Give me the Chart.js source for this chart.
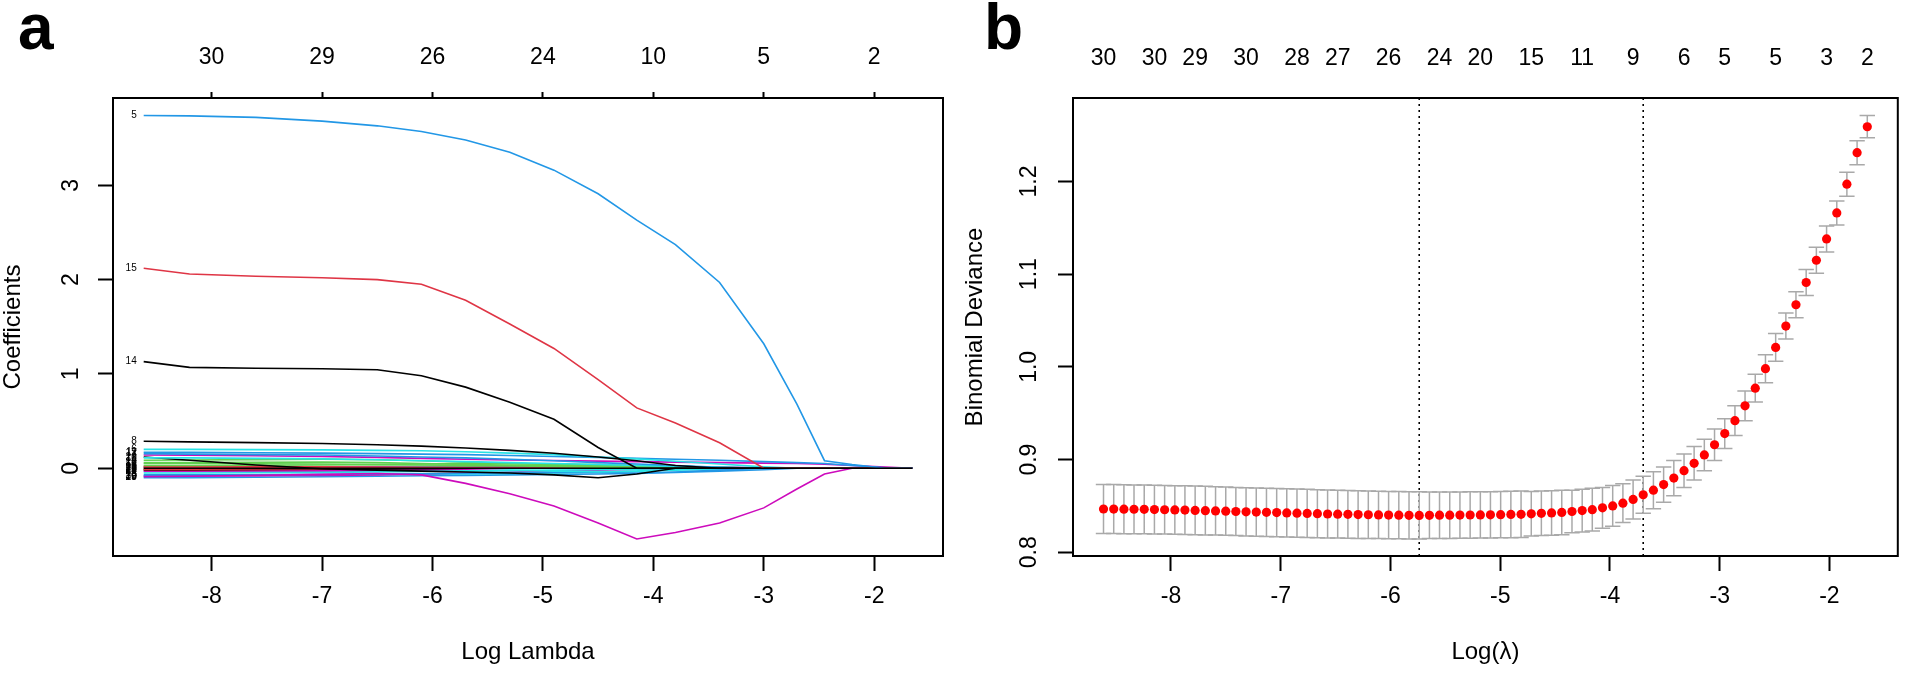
<!DOCTYPE html>
<html>
<head>
<meta charset="utf-8">
<title>LASSO coefficient paths and cross-validation</title>
<script src="https://cdn.jsdelivr.net/npm/chart.js@4.4.1/dist/chart.umd.min.js"></script>
<style>
  html, body { margin: 0; padding: 0; background: #fff; }
  body { width: 1907px; height: 673px; position: relative; overflow: hidden; font-family: 'Liberation Sans', Arial, sans-serif; }
  .panel { position: absolute; top: 0; height: 673px; }
  .tag { position: absolute; top: -5px; font-weight: bold; font-size: 64px; line-height: 64px; color: #000; }
</style>
</head>
<body>
<div class="panel" style="left:0;width:953px"><canvas id="coefChart"></canvas></div>
<div class="panel" style="left:953px;width:954px"><canvas id="cvChart"></canvas></div>
<div class="tag" style="left:18px">a</div>
<div class="tag" style="left:984px">b</div>
<script>
// ---- shared axis values ----
const xTicks = [-8, -7, -6, -5, -4, -3, -2];
const coefTicks = [0, 1, 2, 3];
const devianceTicks = [0.8, 0.9, 1.0, 1.1, 1.2];
const coefTopLabels = ['30', '29', '26', '24', '10', '5', '2'];

// ---- panel a: coefficient paths (value at each knot of log lambda) ----
const pathKnots = [-8.615, -8.2, -7.6, -7.0, -6.5, -6.1, -5.7, -5.3, -4.9, -4.5, -4.15, -3.8, -3.4, -3.0, -2.7, -2.45, -2.2, -1.9, -1.655];
const coefPaths = [
  ['2',  [0, 0, 0, 0, 0, 0, 0, 0, 0, 0, 0, 0, 0, 0, 0, 0, 0, 0, 0]],
  ['5',  [3.74, 3.735, 3.72, 3.68, 3.63, 3.57, 3.48, 3.35, 3.16, 2.91, 2.63, 2.37, 1.97, 1.32, 0.68, 0.08, 0.04, 0, 0]],
  ['15', [2.12, 2.06, 2.035, 2.02, 2.0, 1.95, 1.78, 1.53, 1.27, 0.94, 0.64, 0.48, 0.27, 0, 0, 0, 0, 0, 0]],
  ['14', [1.13, 1.07, 1.06, 1.055, 1.045, 0.98, 0.86, 0.70, 0.52, 0.22, 0, 0, 0, 0, 0, 0, 0, 0, 0]],
  ['8',  [0.286, 0.28, 0.272, 0.262, 0.25, 0.235, 0.215, 0.19, 0.16, 0.12, 0.08, 0.03, 0, 0, 0, 0, 0, 0, 0]],
  ['13', [-0.09, -0.085, -0.075, -0.065, -0.055, -0.07, -0.16, -0.27, -0.40, -0.58, -0.75, -0.68, -0.58, -0.42, -0.22, -0.06, 0, 0, 0]],
  ['6',  [0.20, 0.20, 0.198, 0.195, 0.19, 0.185, 0.175, 0.16, 0.145, 0.12, 0.10, 0.075, 0.045, 0.015, 0, 0, 0, 0, 0]],
  ['11', [0.17, 0.168, 0.165, 0.16, 0.155, 0.15, 0.145, 0.135, 0.125, 0.115, 0.105, 0.095, 0.085, 0.07, 0.06, 0.05, 0.03, 0.005, 0]],
  ['17', [0.155, 0.15, 0.145, 0.14, 0.13, 0.12, 0.11, 0.095, 0.08, 0.06, 0.045, 0.03, 0.01, 0, 0, 0, 0, 0, 0]],
  ['7',  [0.14, 0.138, 0.133, 0.125, 0.115, 0.105, 0.095, 0.088, 0.082, 0.076, 0.07, 0.065, 0.06, 0.055, 0.05, 0.042, 0.03, 0.012, 0]],
  ['18', [0.11, 0.11, 0.105, 0.10, 0.09, 0.08, 0.07, 0.06, 0.05, 0.04, 0.03, 0.02, 0.01, 0, 0, 0, 0, 0, 0]],
  ['20', [0.12, 0.085, 0.035, -0.005, -0.02, -0.03, -0.04, -0.05, -0.07, -0.10, -0.06, 0, 0, 0, 0, 0, 0, 0, 0]],
  ['4',  [0.085, 0.088, 0.092, 0.095, 0.09, 0.08, 0.065, 0.05, 0.04, 0.03, 0.02, 0.01, 0, 0, 0, 0, 0, 0, 0]],
  ['22', [0.06, 0.06, 0.062, 0.065, 0.06, 0.05, 0.04, 0.035, 0.03, 0.02, 0.01, 0, 0, 0, 0, 0, 0, 0, 0]],
  ['10', [0.05, 0.05, 0.048, 0.045, 0.04, 0.035, 0.03, 0.025, 0.02, 0.012, 0.005, 0, 0, 0, 0, 0, 0, 0, 0]],
  ['16', [0.03, 0.03, 0.032, 0.035, 0.04, 0.045, 0.05, 0.05, 0.045, 0.04, 0.03, 0.02, 0.01, 0, 0, 0, 0, 0, 0]],
  ['3',  [0.02, 0.02, 0.018, 0.015, 0.01, 0.005, 0, 0, 0, 0, 0, 0, 0, 0, 0, 0, 0, 0, 0]],
  ['21', [0.01, 0.01, 0.008, 0.006, 0.004, 0.002, 0, 0, 0, 0, 0, 0, 0, 0, 0, 0, 0, 0, 0]],
  ['25', [0.015, 0.015, 0.015, 0.014, 0.012, 0.01, 0.008, 0.012, 0.018, 0.02, 0.02, 0.018, 0.012, 0.005, 0, 0, 0, 0, 0]],
  ['28', [0, 0.005, 0.01, 0.015, 0.02, 0.02, 0.018, 0.015, 0.01, 0.005, 0, 0, 0, 0, 0, 0, 0, 0, 0]],
  ['9',  [-0.01, -0.01, -0.008, -0.005, 0, 0, 0, 0, 0, 0, 0, 0, 0, 0, 0, 0, 0, 0, 0]],
  ['26', [-0.015, -0.015, -0.012, -0.01, -0.008, -0.005, 0, 0, 0, 0, 0, 0, 0, 0, 0, 0, 0, 0, 0]],
  ['27', [-0.02, -0.02, -0.015, -0.01, -0.005, 0, 0, 0, 0, 0, 0, 0, 0, 0, 0, 0, 0, 0, 0]],
  ['1',  [-0.03, -0.03, -0.028, -0.025, -0.02, -0.015, -0.01, 0, 0, 0, 0, 0, 0, 0, 0, 0, 0, 0, 0]],
  ['24', [-0.035, -0.035, -0.035, -0.03, -0.03, -0.028, -0.025, -0.02, -0.03, -0.04, -0.03, -0.01, 0, 0, 0, 0, 0, 0, 0]],
  ['12', [-0.05, -0.05, -0.048, -0.045, -0.04, -0.035, -0.03, -0.025, -0.02, -0.015, -0.01, 0, 0, 0, 0, 0, 0, 0, 0]],
  ['23', [-0.07, -0.07, -0.068, -0.065, -0.06, -0.058, -0.055, -0.05, -0.045, -0.045, -0.05, -0.04, -0.02, 0, 0, 0, 0, 0, 0]],
  ['19', [-0.08, -0.08, -0.078, -0.075, -0.07, -0.06, -0.05, -0.04, -0.03, -0.02, -0.01, 0, 0, 0, 0, 0, 0, 0, 0]],
  ['30', [-0.085, -0.085, -0.08, -0.075, -0.07, -0.065, -0.06, -0.055, -0.05, -0.04, -0.03, -0.02, -0.01, 0, 0, 0, 0, 0, 0]],
  ['29', [-0.10, -0.10, -0.095, -0.09, -0.085, -0.08, -0.075, -0.07, -0.065, -0.06, -0.055, -0.045, -0.03, -0.015, 0, 0, 0, 0, 0]]
];

// ---- panel b: cross-validated deviance per lambda (largest lambda first) ----
const logLambda = [
  -1.655, -1.748, -1.841, -1.933, -2.026, -2.119, -2.212, -2.305, -2.397, -2.490,
  -2.583, -2.676, -2.769, -2.861, -2.954, -3.047, -3.140, -3.233, -3.325, -3.418,
  -3.511, -3.604, -3.697, -3.789, -3.882, -3.975, -4.068, -4.161, -4.253, -4.346,
  -4.439, -4.532, -4.625, -4.717, -4.810, -4.903, -4.996, -5.089, -5.181, -5.274,
  -5.367, -5.460, -5.553, -5.645, -5.738, -5.831, -5.924, -6.017, -6.109, -6.202,
  -6.295, -6.388, -6.481, -6.573, -6.666, -6.759, -6.852, -6.945, -7.037, -7.130,
  -7.223, -7.316, -7.409, -7.501, -7.594, -7.687, -7.780, -7.873, -7.965, -8.058,
  -8.151, -8.244, -8.337, -8.429, -8.522, -8.615
];
const cvMean = [
  1.259, 1.231, 1.197, 1.166, 1.138, 1.115, 1.091, 1.067, 1.044, 1.021,
  0.998, 0.977, 0.958, 0.942, 0.928, 0.916, 0.905, 0.896, 0.888, 0.880,
  0.873, 0.867, 0.862, 0.857, 0.853, 0.850, 0.848, 0.846, 0.845, 0.844,
  0.843, 0.8425, 0.842, 0.8415, 0.841, 0.8408, 0.8406, 0.8404, 0.8403, 0.8402,
  0.8401, 0.8400, 0.8400, 0.8399, 0.8398, 0.8399, 0.8400, 0.8401, 0.8403, 0.8405,
  0.8407, 0.8409, 0.8411, 0.8413, 0.8416, 0.8419, 0.8422, 0.8425, 0.8428, 0.8431,
  0.8434, 0.8437, 0.8440, 0.8443, 0.8446, 0.8449, 0.8452, 0.8455, 0.8457, 0.8459,
  0.8461, 0.8463, 0.8464, 0.8465, 0.8466, 0.8467
];
const cvSd = [
  0.012, 0.013, 0.013, 0.013, 0.014, 0.014, 0.014, 0.014, 0.014, 0.015,
  0.015, 0.015, 0.016, 0.016, 0.016, 0.017, 0.017, 0.018, 0.018, 0.019,
  0.019, 0.020, 0.020, 0.021, 0.021, 0.022, 0.022, 0.023, 0.023, 0.023,
  0.024, 0.024, 0.024, 0.024, 0.025, 0.025, 0.025, 0.025, 0.025, 0.025,
  0.025, 0.025, 0.025, 0.025, 0.0255, 0.0255, 0.0255, 0.0255, 0.0255, 0.0255,
  0.0258, 0.0258, 0.0258, 0.0258, 0.0258, 0.026, 0.026, 0.026, 0.026, 0.026,
  0.026, 0.026, 0.026, 0.026, 0.026, 0.0262, 0.0262, 0.0262, 0.0262, 0.0262,
  0.0263, 0.0263, 0.0263, 0.0264, 0.0264, 0.0265
];
const lambdaMinLog = -5.738;
const lambda1seLog = -3.697;
const dfAt = [-8.615, -8.151, -7.780, -7.316, -6.852, -6.481, -6.017, -5.553, -5.181, -4.717, -4.253, -3.789, -3.325, -2.954, -2.490, -2.026, -1.655];
const dfLabels = ['30', '30', '29', '30', '28', '27', '26', '24', '20', '15', '11', '9', '6', '5', '5', '3', '2'];

// ---- styling ----
Chart.defaults.font.family = "'Liberation Sans', Arial, sans-serif";
Chart.defaults.color = '#000';
Chart.defaults.animation = false;

const X_MIN = -8.893, X_MAX = -1.377;
const COEF_MIN = -0.93, COEF_MAX = 3.925;
const DEV_MIN = 0.796, DEV_MAX = 1.290;

// matplot cycles through six palette colours
const rPalette = ['#000000', '#DF3545', '#61D04F', '#2297E6', '#28E2E5', '#CD0BBC'];
const colorFor = lab => rPalette[((Number(lab) - 2) % 6 + 6) % 6];

const tickFont = { size: 23 };
const titleFont = { size: 24, lineHeight: 1 };

function fixedTicks(values) {
  return scale => { scale.ticks = values.map(v => ({ value: v })); };
}
function sideGrid(len) {
  return { drawOnChartArea: false, drawTicks: len > 0, tickLength: len, tickWidth: 2, color: '#000' };
}

const boxPlugin = {
  id: 'box',
  afterDraw(chart) {
    const { ctx, chartArea: a } = chart;
    ctx.save();
    ctx.strokeStyle = '#000';
    ctx.lineWidth = 2;
    ctx.strokeRect(a.left, a.top, a.right - a.left, a.bottom - a.top);
    ctx.restore();
  }
};

// variable numbers at the left end of each path, like glmnet's label=TRUE
const pathLabelPlugin = {
  id: 'pathLabels',
  afterDatasetsDraw(chart) {
    const ctx = chart.ctx;
    ctx.save();
    ctx.font = "10px 'Liberation Sans', Arial, sans-serif";
    ctx.fillStyle = '#000';
    ctx.textAlign = 'right';
    ctx.textBaseline = 'middle';
    chart.data.datasets.forEach((ds, i) => {
      const pt = chart.getDatasetMeta(i).data[0];
      if (pt) ctx.fillText(ds.label, pt.x - 7, pt.y);
    });
    ctx.restore();
  }
};

// ---- panel a ----
new Chart(document.getElementById('coefChart'), {
  type: 'line',
  data: {
    datasets: coefPaths.map(([lab, vals]) => ({
      label: lab,
      data: pathKnots.map((x, j) => ({ x, y: vals[j] })),
      borderColor: colorFor(lab),
      borderWidth: 1.6,
      pointRadius: 0,
      tension: 0
    }))
  },
  options: {
    responsive: true,
    maintainAspectRatio: false,
    events: [],
    layout: { padding: { left: 0, top: 0, right: 10, bottom: 0 } },
    plugins: { legend: { display: false }, tooltip: { enabled: false } },
    scales: {
      x: {
        type: 'linear', position: 'bottom', min: X_MIN, max: X_MAX, bounds: 'data', offset: false,
        afterBuildTicks: fixedTicks(xTicks),
        afterFit: s => { s.height = 117; },
        grid: sideGrid(15), border: { display: false },
        ticks: { font: tickFont, padding: 12, autoSkip: false, maxRotation: 0 },
        title: { display: true, text: 'Log Lambda', font: titleFont, padding: { top: 0, bottom: 9 } }
      },
      xTop: {
        type: 'linear', position: 'top', min: X_MIN, max: X_MAX, bounds: 'data', offset: false,
        afterBuildTicks: fixedTicks(xTicks),
        afterFit: s => { s.height = 98; },
        grid: sideGrid(6), border: { display: false },
        ticks: { font: tickFont, padding: 21, autoSkip: false, maxRotation: 0, callback: (v, i) => coefTopLabels[i] }
      },
      y: {
        type: 'linear', position: 'left', min: COEF_MIN, max: COEF_MAX, bounds: 'data',
        afterBuildTicks: fixedTicks(coefTicks),
        afterFit: s => { s.width = 113; },
        grid: sideGrid(15), border: { display: false },
        ticks: { font: tickFont, padding: 19.5, autoSkip: false, minRotation: 90, maxRotation: 90, crossAlign: 'center' },
        title: { display: true, text: 'Coefficients', font: titleFont, padding: { top: 1.5, bottom: 0 } }
      }
    }
  },
  plugins: [boxPlugin, pathLabelPlugin]
});

// ---- panel b ----
const meanPts = logLambda.map((x, i) => ({ x, y: cvMean[i] }));
const upperPts = logLambda.map((x, i) => ({ x, y: cvMean[i] + cvSd[i] }));
const lowerPts = logLambda.map((x, i) => ({ x, y: cvMean[i] - cvSd[i] }));
const errSegments = [];
logLambda.forEach((x, i) => {
  errSegments.push(lowerPts[i], upperPts[i], { x, y: null });
});

new Chart(document.getElementById('cvChart'), {
  type: 'scatter',
  data: {
    datasets: [
      { label: 'cvm', data: meanPts, pointRadius: 4.6, pointHoverRadius: 4.6,
        backgroundColor: '#FF0000', borderColor: '#FF0000', borderWidth: 0 },
      { label: 'upper', data: upperPts, pointStyle: 'line', pointRadius: 7.7, pointHoverRadius: 7.7,
        borderColor: '#A9A9A9', borderWidth: 1.5 },
      { label: 'lower', data: lowerPts, pointStyle: 'line', pointRadius: 7.7, pointHoverRadius: 7.7,
        borderColor: '#A9A9A9', borderWidth: 1.5 },
      { type: 'line', label: 'bars', data: errSegments, borderColor: '#A9A9A9', borderWidth: 1.5,
        pointRadius: 0, spanGaps: false, tension: 0 },
      { type: 'line', label: 'lambda.min', data: [{ x: lambdaMinLog, y: DEV_MIN }, { x: lambdaMinLog, y: DEV_MAX }],
        borderColor: '#000', borderWidth: 1.6, borderDash: [2, 4], pointRadius: 0 },
      { type: 'line', label: 'lambda.1se', data: [{ x: lambda1seLog, y: DEV_MIN }, { x: lambda1seLog, y: DEV_MAX }],
        borderColor: '#000', borderWidth: 1.6, borderDash: [2, 4], pointRadius: 0 }
    ]
  },
  options: {
    responsive: true,
    maintainAspectRatio: false,
    events: [],
    layout: { padding: { left: 0, top: 0, right: 5, bottom: 0 } },
    plugins: { legend: { display: false }, tooltip: { enabled: false } },
    scales: {
      x: {
        type: 'linear', position: 'bottom', min: X_MIN, max: X_MAX, bounds: 'data', offset: false,
        afterBuildTicks: fixedTicks(xTicks),
        afterFit: s => { s.height = 117; },
        grid: sideGrid(15), border: { display: false },
        ticks: { font: tickFont, padding: 12, autoSkip: false, maxRotation: 0 },
        title: { display: true, text: 'Log(λ)', font: titleFont, padding: { top: 0, bottom: 9 } }
      },
      xTop: {
        type: 'linear', position: 'top', min: X_MIN, max: X_MAX, bounds: 'data', offset: false,
        afterBuildTicks: fixedTicks(dfAt),
        afterFit: s => { s.height = 98; },
        grid: sideGrid(0), border: { display: false },
        ticks: { font: tickFont, padding: 26, autoSkip: false, maxRotation: 0, callback: (v, i) => dfLabels[i] }
      },
      y: {
        type: 'linear', position: 'left', min: DEV_MIN, max: DEV_MAX, bounds: 'data',
        afterBuildTicks: fixedTicks(devianceTicks),
        afterFit: s => { s.width = 120; },
        grid: sideGrid(15), border: { display: false },
        ticks: { font: tickFont, padding: 12, autoSkip: false, minRotation: 90, maxRotation: 90, crossAlign: 'center',
                 callback: v => v.toFixed(1) },
        title: { display: true, text: 'Binomial Deviance', font: titleFont, padding: { top: 10, bottom: 0 } }
      }
    }
  },
  plugins: [boxPlugin]
});
</script>
</body>
</html>
